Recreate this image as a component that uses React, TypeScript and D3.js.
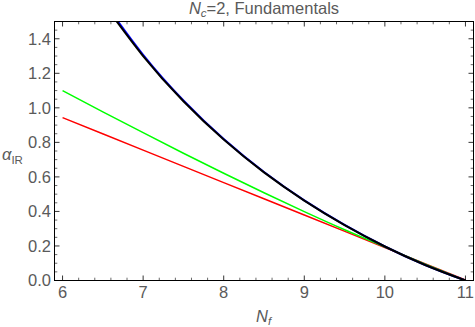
import React from "react";
import * as d3 from "d3";

const W = 475;
const H = 327;

// Data
const blackNf = [6.5, 7.0, 7.5, 8.0, 8.5, 9.0, 9.5, 10.0, 10.5, 11.0];
const blackAlpha = [1.61, 1.3, 1.038, 0.816, 0.626, 0.463, 0.321, 0.197, 0.09, 0.0];
const blueNf = [6.5, 7.0, 7.5, 8.0, 8.5, 9.0, 9.5, 10.0, 10.5, 11.0];
const blueAlpha = [1.622, 1.307, 1.043, 0.819, 0.628, 0.464, 0.322, 0.197, 0.09, 0.0];
const greenNf = [6.0, 6.5, 7.0, 7.5, 8.0, 8.5, 9.0, 9.5, 10.0, 10.5, 11.0];
const greenAlpha = [1.1, 0.977, 0.856, 0.737, 0.621, 0.508, 0.399, 0.294, 0.194, 0.095, 0.0];
const redNf = [6.0, 7.0, 8.0, 9.0, 10.0, 11.0];
const redAlpha = [0.943, 0.755, 0.567, 0.379, 0.191, 0.003];

const xMajor = [6, 7, 8, 9, 10, 11];
const xMajorLabels = ["6", "7", "8", "9", "10", "11"];
const yMajor = [0, 0.2, 0.4, 0.6, 0.8, 1.0, 1.2, 1.4];
const yMajorLabels = ["0.0", "0.2", "0.4", "0.6", "0.8", "1.0", "1.2", "1.4"];

const FONT = "'Liberation Sans', Arial, sans-serif";
const GRAY = "#5a5a5a";

export default function App() {
  const left = 54.5, right = 473.5, top = 21.5, bottom = 280.5;
  const x = d3.scaleLinear().domain([5.9, 11.1]).range([left, right]);
  const y = d3.scaleLinear().domain([0, 1.5]).range([bottom, top]);

  const mk = (xs: number[], ys: number[]) =>
    d3
      .line<number>()
      .x((_, i) => x(xs[i]))
      .y((d) => y(d))
      .curve(d3.curveNatural)(ys) || "";

  const xMinorAll = d3.range(60, 112, 2).map((v) => v / 10).filter((v) => Math.abs(v - Math.round(v)) > 1e-6);
  const yMinor = d3.range(0, 151, 5).map((v) => v / 100).filter((v) => Math.abs(v * 5 - Math.round(v * 5)) > 1e-6);

  const majL = 5, minL = 2.8;

  return (
    <svg width={W} height={H} style={{ position: "absolute", left: 0, top: 0, background: "#fff" }}>
      <defs>
        <clipPath id="plot">
          <rect x={left} y={top} width={right - left} height={bottom - top} />
        </clipPath>
      </defs>
      <g clipPath="url(#plot)" fill="none">
        <path d={mk(redNf, redAlpha)} stroke="#ff0000" strokeWidth={1.5} />
        <path d={mk(greenNf, greenAlpha)} stroke="#00ff00" strokeWidth={1.5} />
        <path d={mk(blueNf, blueAlpha)} stroke="#0000ff" strokeWidth={2} />
        <path d={mk(blackNf, blackAlpha)} stroke="#000000" strokeWidth={2} />
      </g>
      {/* frame */}
      <rect x={left} y={top} width={right - left} height={bottom - top} fill="none" stroke="#000" strokeWidth={1} />
      {/* x ticks */}
      {xMajor.map((v) => (
        <g key={"xm" + v}>
          <line x1={x(v)} x2={x(v)} y1={bottom} y2={bottom - majL} stroke="#000" strokeWidth={0.8} />
          <line x1={x(v)} x2={x(v)} y1={top} y2={top + majL} stroke="#000" strokeWidth={0.8} />
        </g>
      ))}
      {xMinorAll.map((v, i) => (
        <g key={"xn" + i}>
          <line x1={x(v)} x2={x(v)} y1={bottom} y2={bottom - minL} stroke="#000" strokeWidth={0.6} />
          <line x1={x(v)} x2={x(v)} y1={top} y2={top + minL} stroke="#000" strokeWidth={0.6} />
        </g>
      ))}
      {/* y ticks */}
      {yMajor.map((v) => (
        <g key={"ym" + v}>
          <line x1={left} x2={left + majL} y1={y(v)} y2={y(v)} stroke="#000" strokeWidth={0.8} />
          <line x1={right} x2={right - majL} y1={y(v)} y2={y(v)} stroke="#000" strokeWidth={0.8} />
        </g>
      ))}
      {yMinor.map((v, i) => (
        <g key={"yn" + i}>
          <line x1={left} x2={left + minL} y1={y(v)} y2={y(v)} stroke="#000" strokeWidth={0.6} />
          <line x1={right} x2={right - minL} y1={y(v)} y2={y(v)} stroke="#000" strokeWidth={0.6} />
        </g>
      ))}
      {/* tick labels */}
      {xMajor.map((v, i) => (
        <text key={"xl" + v} x={x(v)} y={298} textAnchor="middle" fontFamily={FONT} fontSize={16.5} fill={GRAY}>
          {xMajorLabels[i]}
        </text>
      ))}
      {yMajor.map((v, i) => (
        <text key={"yl" + v} x={51} y={y(v)} dy="0.36em" textAnchor="end" fontFamily={FONT} fontSize={16.5} fill={GRAY}>
          {yMajorLabels[i]}
        </text>
      ))}
      {/* title */}
      <text x={(left + right) / 2} y={14} textAnchor="middle" fontFamily={FONT} fontSize={16.5} fill={GRAY}>
        <tspan fontStyle="italic">N</tspan>
        <tspan fontStyle="italic" fontSize={11.5} dy={3}>c</tspan>
        <tspan dy={-3}>=2, Fundamentals</tspan>
      </text>
      {/* axis labels */}
      <text x={2} y={160} fontFamily={FONT} fontSize={16.5} fill={GRAY}>
        <tspan fontStyle="italic">α</tspan>
        <tspan fontSize={11.5} dy={4}>IR</tspan>
      </text>
      <text x={256} y={322} fontFamily={FONT} fontSize={16.5} fill={GRAY}>
        <tspan fontStyle="italic">N</tspan>
        <tspan fontStyle="italic" fontSize={11.5} dy={3}>f</tspan>
      </text>
    </svg>
  );
}
